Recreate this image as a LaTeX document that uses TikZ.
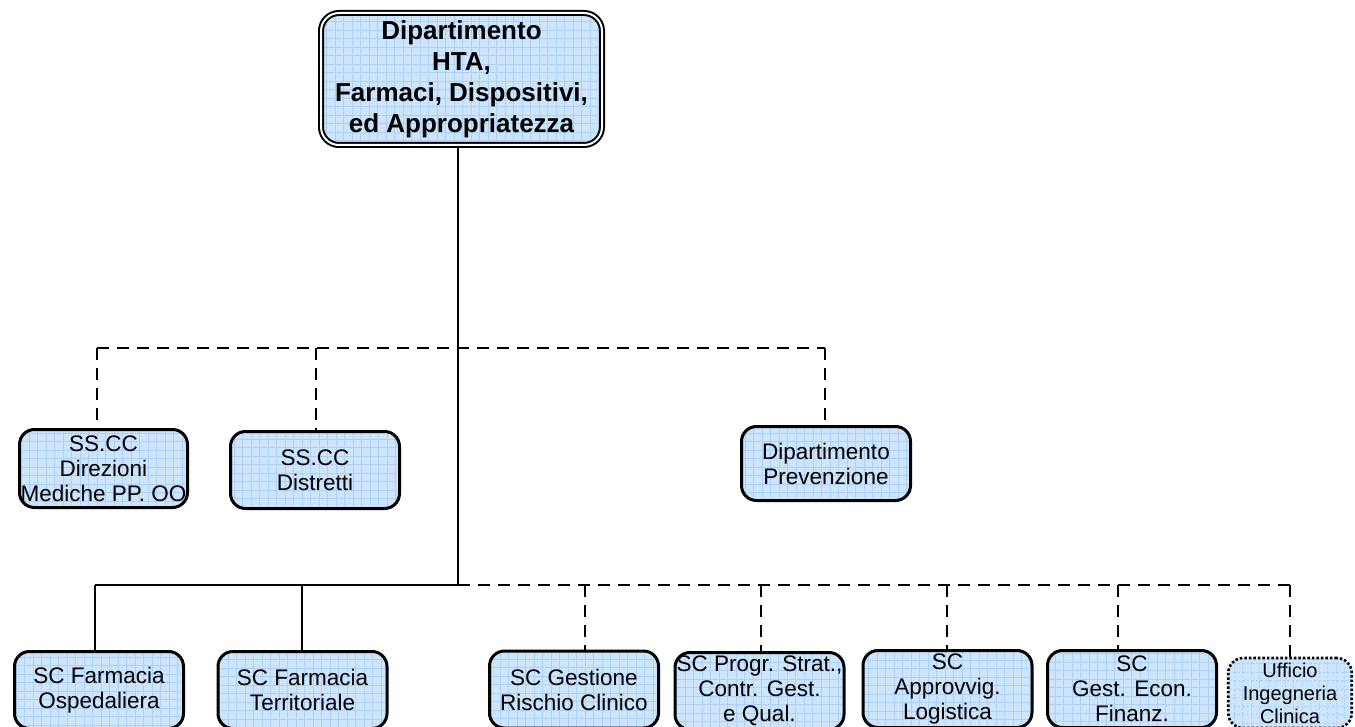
\documentclass[tikz,border=0pt]{standalone}
\usepackage{fontspec}
\setmainfont{Liberation Sans}
\definecolor{unitfill}{RGB}{204,228,252}
\definecolor{unitgrid}{RGB}{174,208,246}
\tikzset{
  gridfill/.style={fill=unitfill,
    path picture={\draw[unitgrid, line width=0.8pt]
      ([shift={(-4pt,-4pt)}]path picture bounding box.south west) grid[step=8.5pt]
      ([shift={(4pt,4pt)}]path picture bounding box.north east);}},
  unit/.style={draw=black, line width=3pt, rounded corners=15pt, gridfill,
    inner sep=0pt, align=center, minimum width=169pt, minimum height=77pt,
    font=\fontsize{22.5}{25}\selectfont},
  office/.style={unit, dash pattern=on 2.5pt off 2pt, line width=2.6pt,
    minimum width=123.5pt, minimum height=70pt, font=\fontsize{20}{23}\selectfont},
  headunit/.style={draw=black, line width=2pt, double=white, double distance=2pt,
    rounded corners=18pt, gridfill, inner sep=0pt, align=center,
    minimum width=281pt, minimum height=132pt,
    font=\bfseries\fontsize{26}{31}\selectfont},
  conn/.style={line width=2.8pt},
  dconn/.style={conn, dash pattern=on 12pt off 8pt},
}
\begin{document}
\begin{tikzpicture}[x=1pt, y=-1pt]
\useasboundingbox (0,0) rectangle (1355,727);
\clip (0,0) rectangle (1355,727);

% head of the department
\node[headunit] (hta) at (461.5,79) {Dipartimento\\HTA,\\Farmaci, Dispositivi,\\ed Appropriatezza};

% functionally linked units
\node[unit, minimum width=168pt, minimum height=78pt] (dmpo) at (103.5,468.5) {SS.CC\\Direzioni\\Mediche PP. OO};
\node[unit] (distr) at (315,470) {SS.CC\\Distretti};
\node[unit, minimum height=74pt] (prev) at (826,463.5) {Dipartimento\\Prevenzione};

% structures of the department
\node[unit] (fosp) at (99,690) {SC Farmacia\\Ospedaliera};
\node[unit] (fter) at (302.5,690) {SC Farmacia\\Territoriale};
\node[unit] (rischio) at (574,689.5) {SC Gestione\\Rischio Clinico};
\node[unit] (progr) at (759.5,691) {SC Progr. Strat.,\\Contr. Gest.\\e Qual.};
\node[unit] (appr) at (947.5,689) {SC\\Approvvig.\\Logistica};
\node[unit] (gef) at (1132,689) {SC\\Gest. Econ.\\Finanz.};
\node[office] (ingcl) at (1290,693) {Ufficio\\Ingegneria\\Clinica};

% bus junctions
\coordinate (jB) at (458,585);
\coordinate (uL) at (97,348);
\coordinate (uM) at (316,348);
\coordinate (uR) at (825,348);
\coordinate (lL) at (95,585);
\coordinate (lM) at (302,585);
\coordinate (l3) at (585,585);
\coordinate (l4) at (761,585);
\coordinate (l5) at (947,585);
\coordinate (l6) at (1118,585);
\coordinate (l7) at (1290,585);

% spine from the head down to the lower bus
\draw[conn] (hta.south -| jB) -- (jB);

% dashed upper bus
\draw[dconn] (uL) -- (uR);
\draw[dconn] (uL) -- (uL |- dmpo.north);
\draw[dconn] (uM) -- (uM |- distr.north);
\draw[dconn] (uR) -- (uR |- prev.north);

% lower bus: solid towards the pharmacies, dashed towards the others
\draw[conn] (lL) -- (jB);
\draw[conn] (lL) -- (lL |- fosp.north);
\draw[conn] (lM) -- (lM |- fter.north);
\draw[dconn] (jB) -- (l7);
\draw[dconn] (l3) -- (l3 |- rischio.north);
\draw[dconn] (l4) -- (l4 |- progr.north);
\draw[dconn] (l5) -- (l5 |- appr.north);
\draw[dconn] (l6) -- (l6 |- gef.north);
\draw[dconn] (l7) -- (l7 |- ingcl.north);
\end{tikzpicture}
\end{document}
